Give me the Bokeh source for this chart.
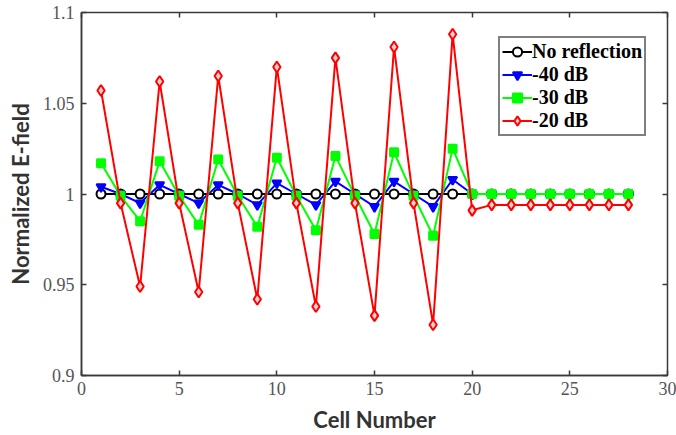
from bokeh.plotting import figure
from bokeh.models import Range1d, FixedTicker, CustomJSTickFormatter, LinearAxis, Legend, LegendItem
from bokeh.embed import file_html
from bokeh.resources import INLINE

cells = [1, 2, 3, 4, 5, 6, 7, 8, 9, 10, 11, 12, 13, 14, 15, 16, 17, 18, 19, 20,
         21, 22, 23, 24, 25, 26, 27, 28]
no_reflection = [1.000, 1.000, 1.000, 1.000, 1.000, 1.000, 1.000, 1.000, 1.000, 1.000,
                 1.000, 1.000, 1.000, 1.000, 1.000, 1.000, 1.000, 1.000, 1.000, 1.000,
                 1.000, 1.000, 1.000, 1.000, 1.000, 1.000, 1.000, 1.000]
minus40 = [1.004, 1.000, 0.995, 1.005, 1.000, 0.995, 1.005, 1.000, 0.994, 1.006,
           1.000, 0.994, 1.007, 1.000, 0.993, 1.007, 1.000, 0.993, 1.008, 1.000,
           1.000, 1.000, 1.000, 1.000, 1.000, 1.000, 1.000, 1.000]
minus30 = [1.017, 0.999, 0.985, 1.018, 0.999, 0.983, 1.019, 0.999, 0.982, 1.020,
           0.999, 0.980, 1.021, 0.999, 0.978, 1.023, 0.999, 0.977, 1.025, 1.000,
           1.000, 1.000, 1.000, 1.000, 1.000, 1.000, 1.000, 1.000]
minus20 = [1.057, 0.995, 0.949, 1.062, 0.995, 0.946, 1.065, 0.995, 0.942, 1.070,
           0.995, 0.938, 1.075, 0.995, 0.933, 1.081, 0.995, 0.928, 1.088, 0.991,
           0.994, 0.994, 0.994, 0.994, 0.994, 0.994, 0.994, 0.994]

x_ticks = [0, 5, 10, 15, 20, 25, 30]
y_ticks = [0.9, 0.95, 1.0, 1.05, 1.1]
x_label = "Cell Number"
y_label = "Normalized E-field"
series_names = ["No reflection", "-40 dB", "-30 dB", "-20 dB"]

AX = "#3a3a3a"
TICKFONT = "Liberation Serif"

p = figure(width=676, height=435, output_backend="svg", toolbar_location=None,
           x_range=Range1d(0, 30), y_range=Range1d(0.9, 1.1),
           min_border_left=81, min_border_right=9, min_border_top=12, min_border_bottom=58)
p.xgrid.visible = False
p.ygrid.visible = False
p.outline_line_color = AX
p.outline_line_width = 1.5
p.background_fill_color = "white"
p.border_fill_color = "white"

fmt = CustomJSTickFormatter(code="return String(Math.round(tick*100)/100);")
blank = CustomJSTickFormatter(code="return '';")

for ax, ticks in ((p.xaxis[0], x_ticks), (p.yaxis[0], y_ticks)):
    ax.ticker = FixedTicker(ticks=ticks)
    ax.formatter = fmt
    ax.axis_line_color = AX
    ax.axis_line_width = 1.5
    ax.major_tick_line_color = AX
    ax.major_tick_line_width = 1.5
    ax.major_tick_in = 5
    ax.major_tick_out = 0
    ax.minor_tick_line_color = None
    ax.major_label_text_font = TICKFONT
    ax.major_label_text_font_size = "18px"
    ax.major_label_text_color = "#555555"
    ax.axis_label_text_font = "Lato"
    ax.axis_label_text_font_style = "bold"
    ax.axis_label_text_font_size = "22px"
    ax.axis_label_text_color = "#333333"

p.xaxis[0].axis_label = x_label
p.yaxis[0].axis_label = y_label
p.xaxis[0].major_label_standoff = 6
p.xaxis[0].axis_label_standoff = 8
p.yaxis[0].major_label_standoff = 7
p.yaxis[0].axis_label_standoff = 6

for loc, ticks in (("above", x_ticks), ("right", y_ticks)):
    ax = LinearAxis(ticker=FixedTicker(ticks=ticks), formatter=blank, axis_line_color=None,
                    major_tick_line_color=AX, major_tick_line_width=1.5,
                    major_tick_in=5, major_tick_out=0, minor_tick_line_color=None,
                    major_label_standoff=0)
    p.add_layout(ax, loc)

styles = [
    (no_reflection, "black", "circle", "white", 9),
    (minus40, "#0000ff", "inverted_triangle", "#0000ff", 9),
    (minus30, "#00ff00", "square", "#00ff00", 8),
    (minus20, "#ff0000", "diamond", "#ffd0d0", 11),
]

items = []
for name, (vals, col, mk, fill, sz) in zip(series_names, styles):
    r1 = p.line(cells, vals, line_color=col, line_width=2)
    r2 = p.scatter(cells, vals, marker=mk, size=sz,
                   line_color=col, line_width=2, fill_color=fill)
    items.append(LegendItem(label=name, renderers=[r1, r2]))

legend = Legend(items=items, location=(417, 239), border_line_color="black",
                border_line_width=2, padding=2, margin=0, spacing=0,
                glyph_width=30, glyph_height=23, label_height=23, label_standoff=0,
                label_text_font="Liberation Serif", label_text_font_style="bold",
                label_text_font_size="20px", label_text_color="black",
                background_fill_color="white", background_fill_alpha=1.0)
p.add_layout(legend, "center")

open("out.html", "w").write(file_html(p, INLINE))
